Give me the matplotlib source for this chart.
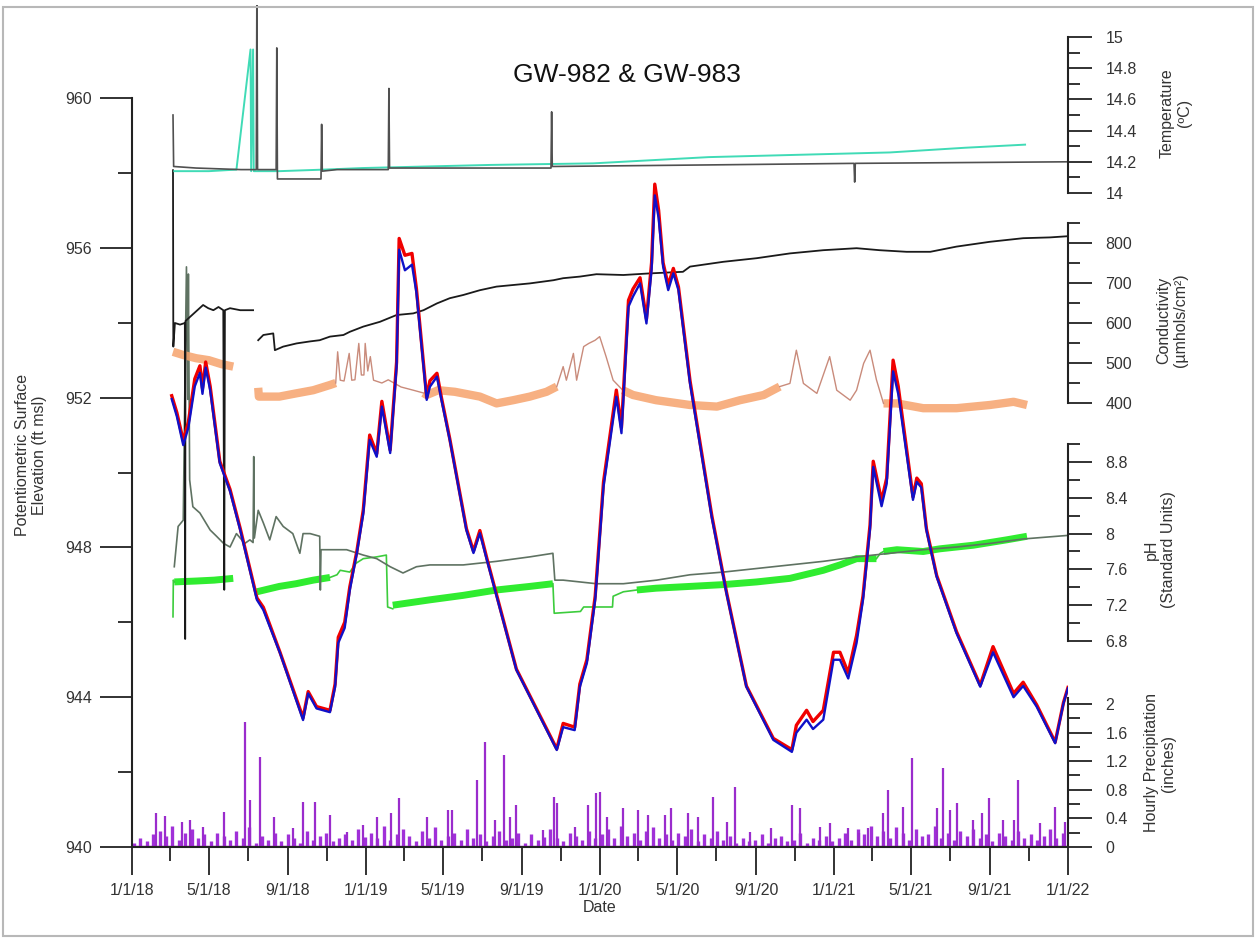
import matplotlib
matplotlib.use('Agg')
import matplotlib.pyplot as plt
import matplotlib.dates as mdates
import matplotlib.ticker as mticker
from matplotlib.patches import Rectangle
import numpy as np
import pandas as pd

plt.rcParams['font.family'] = ['Liberation Sans', 'DejaVu Sans']

START = pd.Timestamp('2018-01-01')
END = pd.Timestamp('2022-01-01')

# ---- water level (ft msl), day offsets from 1/1/18 ----
wl_days = [62, 70, 80, 88, 98, 106, 110, 115, 122, 137, 153, 169, 195, 205, 231, 267, 275,
           288, 309, 317, 322, 332, 340, 351, 361, 371, 382, 390, 403, 413, 417, 426, 437,
           444, 460, 465, 476, 483, 496, 522, 533, 543, 554, 600, 663, 673, 691, 699, 710,
           723, 736, 756, 764, 769, 775, 782, 793, 803, 811, 816, 822, 829, 837, 845, 853,
           871, 905, 928, 959, 1001, 1030, 1037, 1053, 1063, 1079, 1095, 1105, 1118, 1131,
           1141, 1152, 1157, 1170, 1178, 1188, 1196, 1219, 1225, 1232, 1240, 1256, 1287,
           1324, 1344, 1376, 1391, 1412, 1441, 1454, 1461]
gw983 = [951.96, 951.5, 950.73, 951.2, 952.3, 952.66, 952.1, 952.8, 952.2, 950.25, 949.5,
         948.46, 946.6, 946.33, 945.18, 943.39, 944.1, 943.7, 943.6, 944.27, 945.45, 945.85,
         946.86, 947.85, 948.9, 950.87, 950.42, 951.76, 950.52, 952.83, 955.95, 955.4,
         955.55, 954.8, 951.94, 952.29, 952.56, 951.94, 950.87, 948.46, 947.85, 948.38,
         947.66, 944.73, 942.59, 943.2, 943.12, 944.27, 944.91, 946.6, 949.62, 952.02,
         951.05, 952.56, 954.43, 954.7, 955.05, 953.98, 955.41, 957.4, 956.8, 955.5,
         954.87, 955.32, 954.87, 952.38, 948.8, 946.77, 944.28, 942.86, 942.54, 943.05,
         943.4, 943.15, 943.4, 945.0, 945.0, 944.5, 945.45, 946.6, 948.5, 950.15, 949.1,
         949.7, 952.7, 952.1, 949.27, 949.75, 949.6, 948.46, 947.22, 945.71, 944.28,
         945.2, 944.0, 944.3, 943.75, 942.77, 943.84, 944.24]
gw982 = [952.05, 951.6, 950.85, 951.35, 952.5, 952.85, 952.25, 952.95, 952.3, 950.3, 949.55,
         948.5, 946.65, 946.4, 945.2, 943.45, 944.15, 943.75, 943.65, 944.35, 945.6, 946.0,
         946.95, 947.9, 949.0, 951.0, 950.5, 951.9, 950.6, 952.95, 956.25, 955.8, 955.85,
         954.9, 952.0, 952.45, 952.65, 952.0, 950.9, 948.5, 947.9, 948.45, 947.7, 944.75,
         942.62, 943.3, 943.2, 944.35, 945.0, 946.7, 949.75, 952.2, 951.2, 952.75, 954.6,
         954.9, 955.2, 954.1, 955.6, 957.7, 957.0, 955.6, 955.0, 955.45, 954.95, 952.45,
         948.85, 946.8, 944.3, 942.9, 942.6, 943.25, 943.65, 943.35, 943.65, 945.2, 945.2,
         944.65, 945.65, 946.7, 948.6, 950.3, 949.25, 949.85, 953.0, 952.3, 949.35, 949.85,
         949.7, 948.5, 947.25, 945.75, 944.32, 945.35, 944.1, 944.4, 943.8, 942.8, 943.86,
         944.26]

# ---- hourly precipitation (inches) ----
rain_days = [38, 51, 78, 90, 111, 143, 176, 184, 200, 221, 252, 267, 286, 309, 335, 361,
             382, 405, 416, 460, 494, 499, 538, 551, 567, 580, 590, 600, 642, 658, 663, 691,
             712, 725, 730, 741, 767, 790, 806, 832, 842, 868, 884, 907, 928, 941, 965, 998,
             1030, 1043, 1074, 1089, 1118, 1134, 1149, 1173, 1180, 1204, 1217, 1256, 1266,
             1277, 1287, 1313, 1326, 1337, 1360, 1376, 1383, 1417, 1441, 1456]
rain_in = [0.48, 0.43, 0.35, 0.38, 0.28, 0.49, 1.75, 0.66, 1.26, 0.42, 0.26, 0.63, 0.63,
           0.45, 0.21, 0.31, 0.42, 0.47, 0.68, 0.42, 0.52, 0.52, 0.94, 1.47, 0.38, 1.29,
           0.42, 0.59, 0.24, 0.70, 0.61, 0.28, 0.59, 0.75, 0.77, 0.42, 0.54, 0.52, 0.45,
           0.45, 0.54, 0.47, 0.42, 0.70, 0.35, 0.84, 0.21, 0.26, 0.59, 0.54, 0.28, 0.33,
           0.26, 0.19, 0.26, 0.47, 0.80, 0.56, 1.24, 0.54, 1.10, 0.52, 0.61, 0.38, 0.47,
           0.68, 0.38, 0.38, 0.94, 0.33, 0.56, 0.35]
drizzle_in = [0.05, 0.12, 0.08, 0.18, 0.22, 0.15, 0.3, 0.1, 0.2, 0.25, 0.12, 0.18,
              0.08, 0.2, 0.15, 0.1, 0.22, 0.12, 0.28, 0.05, 0.15, 0.1, 0.2, 0.08,
              0.18, 0.12, 0.06, 0.22, 0.1, 0.15, 0.2, 0.08, 0.12, 0.18, 0.1, 0.25, 0.14,
              0.2, 0.12, 0.3, 0.1, 0.18, 0.25, 0.15, 0.08, 0.22, 0.12, 0.28, 0.1,
              0.16, 0.2, 0.1, 0.25, 0.12, 0.18, 0.08, 0.15, 0.22, 0.1, 0.12, 0.2,
              0.06, 0.18, 0.1, 0.14, 0.25, 0.12, 0.08, 0.2, 0.15, 0.1, 0.22, 0.12,
              0.18, 0.25, 0.12, 0.3, 0.15, 0.2, 0.1, 0.22, 0.28, 0.12, 0.18, 0.1,
              0.2, 0.15, 0.25, 0.08, 0.18, 0.12, 0.22, 0.1, 0.15, 0.06, 0.12, 0.08,
              0.1, 0.18, 0.05, 0.12, 0.15, 0.08, 0.1, 0.2, 0.06, 0.12, 0.1, 0.15, 0.08,
              0.12, 0.2, 0.1, 0.25, 0.18, 0.3, 0.15, 0.22, 0.12, 0.28, 0.2, 0.1,
              0.25, 0.15, 0.18, 0.3, 0.12, 0.2, 0.1, 0.22, 0.15, 0.25, 0.12, 0.18,
              0.08, 0.2, 0.15, 0.1, 0.22, 0.12, 0.18, 0.1, 0.15, 0.25, 0.12, 0.2]

# ---- temperature (C) ----
tgray_days = [64, 65, 100, 170, 194, 195, 196, 225, 226, 227, 295, 296, 297, 320, 400, 401,
              402, 500, 654, 655, 656, 900, 1127, 1128, 1129, 1461]
tgray = [14.50, 14.17, 14.16, 14.15, 14.15, 15.4, 14.15, 14.15, 14.93, 14.09, 14.09, 14.44,
         14.14, 14.15, 14.15, 14.67, 14.16, 14.16, 14.16, 14.52, 14.17, 14.18, 14.19, 14.07,
         14.19, 14.20]
tteal_days = [66, 120, 163, 185, 186, 189, 190, 230, 300, 360, 560, 720, 900, 1183, 1300, 1394]
tteal = [14.14, 14.14, 14.15, 14.92, 14.14, 14.92, 14.14, 14.14, 14.15, 14.16, 14.18, 14.19,
         14.23, 14.26, 14.29, 14.31]

# ---- conductivity (umhos/cm2) ----
cond_days = [64, 64.5, 67, 75, 82.5, 83, 83.5, 111, 119, 127, 135, 142.5, 144, 145, 153,
             169, 189, 193, 197, 205, 220.5, 223, 236, 257, 278, 293, 309, 330, 340, 361,
             387, 413, 439, 455, 476, 496, 517, 543, 569, 595, 621, 658, 673, 699, 725, 767,
             808, 860, 871, 923, 975, 1027, 1079, 1131, 1167, 1209, 1246, 1287, 1339, 1391,
             1433, 1461]
cond_982 = [982, 541, 600, 596, 600, -190, 605, 645, 637, 632, 640, 632, -67, 632, 637,
            632, 632, np.nan, 557, 570, 574, 532, 541, 549, 554, 557, 566, 570, 578, 591,
            603, 620, 624, 632, 649, 662, 670, 682, 691, 695, 699, 707, 712, 716, 722, 720,
            724, 728, 741, 753, 762, 774, 782, 787, 782, 778, 778, 791, 803, 812, 814, 817]
band_days = [64, 80, 100, 120, 140, 158, 159,
             197, 198, 230, 256, 283, 309, 318, 319,
             455, 460, 478, 504, 543, 569, 595, 621, 647, 663, 664,
             766, 782, 818, 871, 913, 949, 986, 1011, 1012,
             1173, 1194, 1235, 1287, 1339, 1376, 1397]
band_983 = [528, 520, 512, 507, 497, 491, np.nan,
            438, 416, 416, 424, 432, 445, 450, np.nan,
            425, 420, 432, 428, 416, 399, 407, 416, 428, 441, np.nan,
            432, 420, 407, 395, 391, 407, 420, 441, np.nan,
            399, 399, 387, 387, 395, 403, 395]
thin_days = [318, 321, 325, 331, 339, 343, 348, 354, 358, 362, 364, 368, 372, 377, 390, 400,
             420, 439, 455, 456,
             663, 673, 678, 689, 694, 705, 713, 723, 730, 740, 751, 766, 767,
             1011, 1027, 1037, 1048, 1069, 1089, 1100, 1121, 1131, 1142, 1152, 1162, 1173]
thin_983 = [450, 528, 457, 455, 524, 457, 458, 549, 470, 470, 549, 480, 516, 457, 450, 458,
            440, 432, 425, np.nan,
            441, 491, 457, 524, 457, 541, 549, 557, 566, 516, 457, 432, np.nan,
            441, 449, 532, 449, 424, 516, 432, 407, 432, 499, 532, 458, 399]

# ---- pH (standard units) ----
ph_band_days = [66, 100, 128, 158, 159, 195, 230, 256, 283, 309, 310,
                407, 465, 517, 569, 621, 657, 658,
                788, 818, 871, 923, 975, 1027, 1079, 1105, 1131, 1162, 1163,
                1173, 1194, 1235, 1261, 1313, 1365, 1397]
ph_band = [7.46, 7.47, 7.48, 7.50, np.nan, 7.35, 7.41, 7.44, 7.48, 7.51, np.nan,
           7.20, 7.26, 7.31, 7.37, 7.41, 7.44, np.nan,
           7.37, 7.39, 7.41, 7.43, 7.46, 7.50, 7.59, 7.65, 7.72, 7.72, np.nan,
           7.80, 7.82, 7.80, 7.83, 7.87, 7.93, 7.97]
ph_step_days = [64, 64.5, 66, 67,
                309, 320, 325, 340, 350, 361, 382, 397, 399, 407, 408,
                657, 659, 700, 705, 750, 751, 767, 788, 789,
                1162, 1168, 1173]
ph_step = [7.07, 7.48, 7.46, np.nan,
           7.51, 7.54, 7.59, 7.57, 7.67, 7.72, 7.74, 7.76, 7.18, 7.16, np.nan,
           7.44, 7.11, 7.13, 7.18, 7.18, 7.30, 7.35, 7.37, np.nan,
           7.72, 7.78, 7.80]
ph_dark_days = [66, 72, 80, 83, 85, 87, 88, 90, 95, 106, 122, 132, 143, 153, 163, 176, 184,
                189, 190, 191, 197, 205, 215, 225, 236, 251, 262, 267, 278, 293, 294, 295,
                309, 335, 361, 382, 403, 423, 444, 465, 517, 569, 621, 657, 660, 673, 725,
                767, 819, 871, 923, 975, 1027, 1079, 1131, 1183, 1235, 1287, 1339, 1391, 1461]
ph_dark = [7.63, 8.08, 8.15, 9.9, 10.98, 9.5, 10.9, 8.6, 8.30, 8.23, 8.04, 7.97, 7.89, 7.85,
           8.0, 7.89, 7.93, 7.90, 8.86, 7.95, 8.26, 8.12, 7.93, 8.19, 8.08, 8.0, 7.78, 8.0,
           8.0, 7.97, 7.37, 7.82, 7.82, 7.82, 7.76, 7.72, 7.63, 7.56, 7.63, 7.65, 7.65,
           7.69, 7.74, 7.78, 7.48, 7.48, 7.44, 7.44, 7.48, 7.54, 7.57, 7.61, 7.65, 7.69,
           7.74, 7.78, 7.82, 7.85, 7.89, 7.94, 7.98]


def to_dates(days):
    return START + pd.to_timedelta(np.asarray(days, dtype=float), unit='D')


def tick_fmt(v, pos):
    return format(round(v, 2), 'g')


W, H = 1256, 939
fig = plt.figure(figsize=(W / 100, H / 100), dpi=100)
fig.patches.append(Rectangle((3 / W, 3 / H), 1 - 6 / W, 1 - 10 / H, transform=fig.transFigure,
                             fill=False, edgecolor='#b8b8b8', lw=1.5))

x0, x1, ybot, ytop = 132, 1068, 847, 5
ax = fig.add_axes([x0 / W, (H - ybot) / H, (x1 - x0) / W, (ybot - ytop) / H])
ax.set_xlim(START, END)
ax.set_ylim(940, 940 + (ybot - ytop) / 37.45)

TICK_C = '#222222'
LBL_C = '#333333'


def right_axis(lim, bounds, majors, minors):
    tw = ax.twinx()
    tw.set_ylim(*lim)
    for s in ['left', 'top', 'bottom']:
        tw.spines[s].set_visible(False)
    tw.spines['right'].set_bounds(*bounds)
    tw.spines['right'].set_linewidth(1.5)
    tw.spines['right'].set_color(TICK_C)
    tw.yaxis.set_major_locator(mticker.FixedLocator(majors))
    tw.yaxis.set_minor_locator(mticker.FixedLocator(minors))
    tw.yaxis.set_major_formatter(mticker.FuncFormatter(tick_fmt))
    tw.tick_params(axis='y', which='major', direction='out', length=17, width=1.3,
                   color=TICK_C, pad=10, labelsize=11.5, labelcolor=LBL_C)
    tw.tick_params(axis='y', which='minor', direction='out', length=8.5, width=1.3, color=TICK_C)
    tw.patch.set_visible(False)
    return tw


ax_p = right_axis((0, (ybot - ytop) / 71.5), (0, 2.08),
                  np.arange(0, 2.01, 0.4), np.arange(0.2, 1.81, 0.4))
ax_ph = right_axis((6.8 - (ybot - 641) / 89.5, 6.8 + (641 - ytop) / 89.5), (6.8, 9.0),
                   np.arange(6.8, 8.81, 0.4), np.arange(7.0, 9.01, 0.4))
ax_c = right_axis((400 - (ybot - 403) * 2.5, 400 + (403 - ytop) * 2.5), (400, 850),
                  np.arange(400, 801, 100), np.arange(450, 851, 100))
ax_t = right_axis((14 - (ybot - 193) / 156, 14 + (193 - ytop) / 156), (14, 15),
                  np.arange(14, 15.01, 0.2), np.arange(14.1, 15, 0.2))

# precipitation
purple = '#9a2ccc'
ax_p.vlines(pd.date_range('2018-01-04', periods=len(drizzle_in), freq='10D'), 0, drizzle_in,
            color='#a030d8', lw=2.4)
ax_p.vlines(to_dates(rain_days), 0, rain_in, color=purple, lw=1.6)
ax_p.axhline(0, color='#a020d0', lw=2.5)

# pH
ax_ph.plot(to_dates(ph_band_days), ph_band, color='#30ec30', lw=5, solid_capstyle='butt')
ax_ph.plot(to_dates(ph_step_days), ph_step, color='#3ccc3c', lw=1.2)
ax_ph.plot(to_dates(ph_dark_days), ph_dark, color='#5f7262', lw=1.2)

# conductivity
ax_c.plot(to_dates(band_days), band_983, color='#f6a26c', lw=6, alpha=0.85, solid_capstyle='butt')
ax_c.plot(to_dates(thin_days), thin_983, color='#c98b7b', lw=1.0)
ax_c.plot(to_dates(cond_days), cond_982, color='#1a1a1a', lw=1.3)

# temperature
ax_t.plot(to_dates(tteal_days), tteal, color='#40dbb6', lw=1.4)
ax_t.plot(to_dates(tgray_days), tgray, color='#505050', lw=1.2)

# water level on top
ax.set_zorder(10)
ax.patch.set_visible(False)
ax.plot(to_dates(wl_days), gw982, color='#f00000', lw=2.4)
ax.plot(to_dates(wl_days), gw983, color='#1010c8', lw=1.7)

for s in ['top', 'right']:
    ax.spines[s].set_visible(False)
ax.spines['left'].set_bounds(940, 960)
for s in ['left', 'bottom']:
    ax.spines[s].set_linewidth(1.5)
    ax.spines[s].set_color(TICK_C)

ax.yaxis.set_major_locator(mticker.FixedLocator(np.arange(940, 961, 4)))
ax.yaxis.set_minor_locator(mticker.FixedLocator(np.arange(942, 959, 4)))
ax.tick_params(axis='y', which='major', direction='out', length=23, width=1.3, color=TICK_C,
               pad=6, labelsize=11.5, labelcolor=LBL_C)
ax.tick_params(axis='y', which='minor', direction='out', length=10, width=1.3, color=TICK_C)

ax.xaxis.set_major_locator(mdates.MonthLocator(bymonth=[1, 5, 9]))
ax.xaxis.set_minor_locator(mdates.MonthLocator(bymonth=[3, 7, 11]))
ax.xaxis.set_major_formatter(mticker.FuncFormatter(
    lambda v, pos: (lambda d: f'{d.month}/{d.day}/{d.year % 100:02d}')(mdates.num2date(v))))
ax.tick_params(axis='x', which='major', direction='out', length=20, width=1.3, color=TICK_C,
               pad=6, labelsize=11.5, labelcolor=LBL_C)
ax.tick_params(axis='x', which='minor', direction='out', length=10, width=1.3, color=TICK_C)

fig.text(627 / W, 1 - 75 / H, 'GW-982 & GW-983', ha='center', va='center', fontsize=19,
         color='#111111')
fig.text(600 / W, 1 - 908 / H, 'Date', ha='center', va='center', fontsize=11.5, color=LBL_C)
fig.text(31 / W, 1 - 455 / H, 'Potentiometric Surface\nElevation (ft msl)', rotation=90,
         ha='center', va='center', multialignment='center', fontsize=11.5, color=LBL_C)
right_labels = [('Temperature\n(ºC)', 1176, 113),
                ('Conductivity\n(µmhols/cm²)', 1172, 320),
                ('pH\n(Standard Units)', 1160, 550),
                ('Hourly Precipitation\n(inches)', 1160, 763)]
for txt, px, py in right_labels:
    fig.text(px / W, 1 - py / H, txt, rotation=90, ha='center', va='center',
             multialignment='center', fontsize=11.5, color=LBL_C)

fig.savefig('out.png', dpi=100)
